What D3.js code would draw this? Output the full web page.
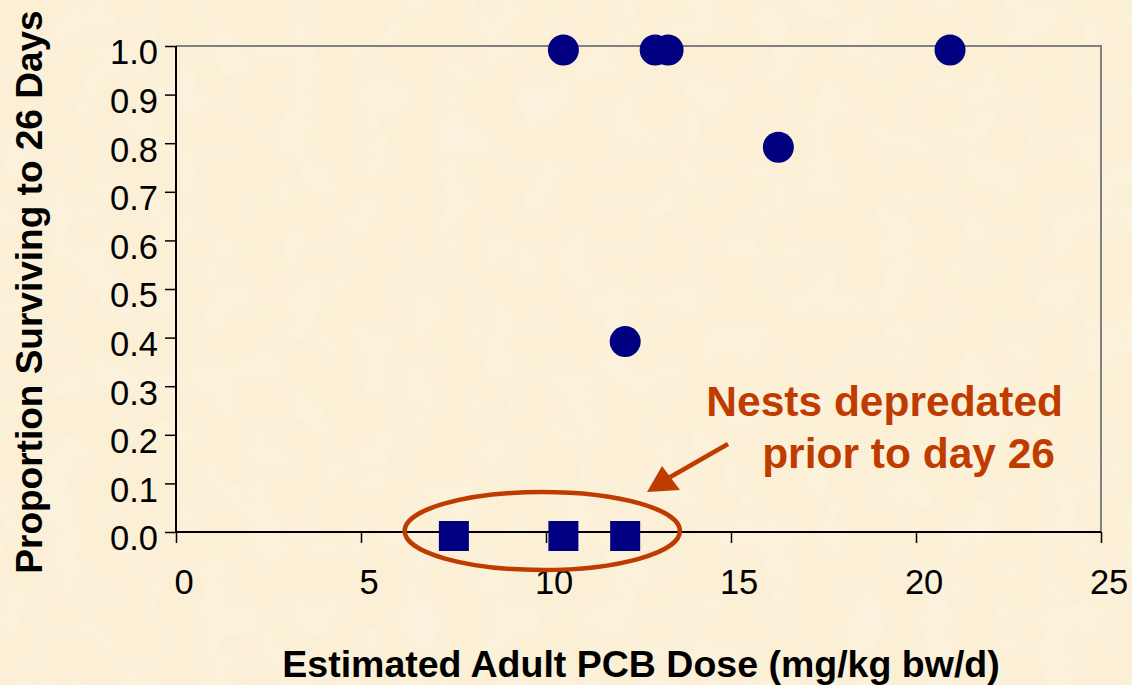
<!DOCTYPE html>
<html>
<head>
<meta charset="utf-8">
<script src="https://cdn.jsdelivr.net/npm/d3@7"></script>
<style>
  html, body { margin: 0; padding: 0; background: #fbf0d8; }
  svg { display: block; }
  text { font-family: "Liberation Sans", Arial, sans-serif; }
</style>
</head>
<body>
<svg id="chart" width="1132" height="685"></svg>
<script>
// ---- data ----
const survivedDose = [10.47, 12.95, 13.30, 20.92, 16.28, 12.14];
const survivedProp = [1.0, 1.0, 1.0, 1.0, 0.8, 0.4];
const depredatedDose = [7.51, 10.47, 12.14];
const depredatedProp = [0, 0, 0];
const xTicks = [0, 5, 10, 15, 20, 25];
const yTicks = [0, 0.1, 0.2, 0.3, 0.4, 0.5, 0.6, 0.7, 0.8, 0.9, 1.0];
const xTitle = "Estimated Adult PCB Dose (mg/kg bw/d)";
const yTitle = "Proportion Surviving to 26 Days";
const noteLines = ["Nests depredated", "prior to day 26"];

// ---- layout ----
const W = 1132, H = 685;
const plot = { left: 176, right: 1101, top: 46, bottom: 532 };
const navy = "#000080";
const accent = "#bf3c00";

const svg = d3.select("#chart");

// parchment background with subtle texture
const defs = svg.append("defs");
const f = defs.append("filter").attr("id", "paper").attr("x", 0).attr("y", 0).attr("width", "100%").attr("height", "100%");
f.append("feTurbulence").attr("type", "fractalNoise").attr("baseFrequency", 0.025).attr("numOctaves", 3).attr("seed", 4).attr("result", "noise");
f.append("feColorMatrix").attr("in", "noise").attr("type", "matrix")
  .attr("values", "0 0 0 0 1  0 0 0 0 0.98  0 0 0 0 0.92  0 0 0 0.7 -0.3");
svg.append("rect").attr("width", W).attr("height", H).attr("fill", "#fbefd5");
svg.append("rect").attr("width", W).attr("height", H).attr("filter", "url(#paper)");

const x = d3.scaleLinear().domain([0, 25]).range([plot.left, plot.right]);
const y = d3.scaleLinear().domain([0, 1]).range([plot.bottom, plot.top]);

// top & right border (gray)
svg.append("path")
  .attr("d", `M${x(0)},${y(1)}H${x(25)}V${y(0)}`)
  .attr("fill", "none").attr("stroke", "#808080").attr("stroke-width", 2);

// axes
const xAxis = svg.append("g").attr("transform", `translate(0,${y(0)})`)
  .call(d3.axisBottom(x).tickValues(xTicks).tickSize(11).tickPadding(27).tickFormat(d3.format("d")));
const yAxis = svg.append("g").attr("transform", `translate(${x(0)},0)`)
  .call(d3.axisLeft(y).tickValues(yTicks).tickSize(11).tickPadding(7).tickFormat(d3.format(".1f")));
[xAxis, yAxis].forEach(g => {
  g.select(".domain").attr("stroke", "#000").attr("stroke-width", 2);
  g.selectAll(".tick line").attr("stroke", "#000").attr("stroke-width", 1.5);
  g.selectAll(".tick text").attr("fill", "#000").attr("font-size", 34.5).attr("font-family", "Liberation Sans, Arial, sans-serif");
});
yAxis.select(".domain").attr("d", `M0,${y(1)}V${y(0)}`);
xAxis.select(".domain").attr("d", `M${x(0)},0H${x(25)}`);
yAxis.selectAll(".tick text").attr("dy", "0.52em");
xAxis.selectAll(".tick text").attr("dx", "0.22em");

// markers (slightly offset below the value line, as in the original)
const markOff = 4;
const pts = survivedDose.map((d, i) => ({ x: d, y: survivedProp[i] }));
svg.append("g").selectAll("circle").data(pts).join("circle")
  .attr("cx", d => x(d.x)).attr("cy", d => y(d.y) + markOff)
  .attr("r", 15.5).attr("fill", navy);

const sq = depredatedDose.map((d, i) => ({ x: d, y: depredatedProp[i] }));
const s = 30;
svg.append("g").selectAll("rect").data(sq).join("rect")
  .attr("x", d => x(d.x) - s / 2).attr("y", d => y(d.y) + markOff - s / 2)
  .attr("width", s).attr("height", s).attr("fill", navy);

// ellipse annotation around depredated nests
svg.append("ellipse")
  .attr("cx", x(9.9)).attr("cy", y(0) - 1)
  .attr("rx", x(9.9) - x(6.18)).attr("ry", 39)
  .attr("fill", "none").attr("stroke", accent).attr("stroke-width", 4.5);

// arrow
svg.append("line")
  .attr("x1", 728).attr("y1", 444).attr("x2", 665).attr("y2", 480)
  .attr("stroke", accent).attr("stroke-width", 4.5);
svg.append("path")
  .attr("d", "M647,492 L662,466 L680,490 Z")
  .attr("fill", accent);

// annotation text
svg.append("text").attr("x", 1063).attr("y", 416).attr("text-anchor", "end")
  .attr("font-size", 42.5).attr("font-weight", "bold").attr("fill", accent).text(noteLines[0]);
svg.append("text").attr("x", 1055).attr("y", 468).attr("text-anchor", "end")
  .attr("font-size", 42.5).attr("font-weight", "bold").attr("fill", accent).text(noteLines[1]);

// axis titles
svg.append("text").attr("x", 641).attr("y", 677).attr("text-anchor", "middle")
  .attr("font-size", 37.5).attr("font-weight", "bold").attr("fill", "#000").text(xTitle);
svg.append("text").attr("transform", `translate(42,292) rotate(-90)`).attr("text-anchor", "middle")
  .attr("font-size", 37).attr("font-weight", "bold").attr("fill", "#000").text(yTitle);
</script>
</body>
</html>
